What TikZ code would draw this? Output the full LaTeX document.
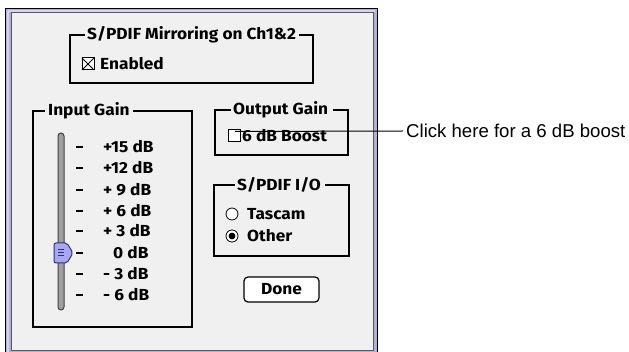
\documentclass[tikz,border=0pt]{standalone}
\usepackage{fontspec}
\setmainfont{Liberation Sans}
\newfontfamily\dlg[FakeStretch=1.08]{Fira Sans}
\definecolor{lav}{HTML}{B0B0D8}
\definecolor{lavlight}{HTML}{D4D4F0}
\definecolor{dlgbg}{HTML}{F0F0F0}
\definecolor{thumbfill}{HTML}{A8A8F0}
\definecolor{thumbdark}{HTML}{303080}
\definecolor{track}{HTML}{A0A0A0}
\tikzset{
  grp/.style={draw=black, line width=2pt},
  dtext/.style={font=\dlg\bfseries\fontsize{16}{16}\selectfont, inner sep=0pt, anchor=west},
  tick/.style={line width=1.6pt},
  chk/.style={draw=black, line width=1pt, fill=white},
}
\begin{document}
\begin{tikzpicture}[x=1pt,y=-1pt]
\useasboundingbox (0,0) rectangle (629,352);
\clip (0,0) rectangle (629,352);
% window frame
\fill[lav] (5,8) rectangle (378,360);
\draw[lavlight, line width=1.5pt] (8,11) -- (375,11) (8,11) -- (8,360);
\draw[black, line width=1.3pt] (5.6,8.6) rectangle (377.4,360);
\fill[dlgbg] (11,13) rectangle (373,351);
\draw[black!65, line width=1pt] (11,13) rectangle (373,351);

% S/PDIF mirroring group
\node[dtext] (mirrT) at (87,35) {S/PDIF Mirroring on Ch1\&2};
\draw[grp] ([xshift=-2pt]mirrT.west) -- (70,35) -- (70,83) -- (313,83) -- (313,35) -- ([xshift=3pt]mirrT.east);
\draw[chk] (82,58) rectangle (94,70);
\draw[line width=0.8pt] (82,58) -- (94,70) (82,70) -- (94,58);
\node[dtext] (enabled) at (100,64) {Enabled};

% Input Gain group
\node[dtext] (inT) at (48,111) {Input Gain};
\coordinate (inR) at (133,111);
\draw[grp] ([xshift=-3pt]inT.west) -- (33,111) -- (33,327) -- (192,327) -- (192,111) -- (inR);
\draw[draw=black!75, fill=track, line width=1pt, rounded corners=3pt] (58,133) rectangle (64,310);
\foreach \y/\t in {147/+15 dB,168/+12 dB,190/+ 9 dB,211/+ 6 dB,231/+ 3 dB,274/- 3 dB,295/- 6 dB}{
  \draw[tick] (76,\y) -- (83,\y);
  \node[dtext] at (103,\y) {\t};
}
\draw[tick] (76,253) -- (83,253);
\node[dtext] (zero) at (113,253) {0 dB};
\draw[fill=thumbfill, draw=thumbdark, line width=1pt, rounded corners=2pt] (54,243) -- (67,243) -- (73,253) -- (67,263) -- (54,263) -- cycle;
\draw[thumbdark, line width=0.8pt] (58,249.5) -- (64,249.5) (58,252.5) -- (64,252.5) (58,255.5) -- (64,255.5);

% Output Gain group
\node[dtext] (outT) at (233,110) {Output Gain};
\coordinate (outR) at (333,110);
\draw[grp] ([xshift=-2pt]outT.west) -- (215,110) -- (215,155) -- (348,155) -- (348,110) -- (outR);
\draw[chk] (228,130) rectangle (240,142);
\node[dtext] (boost) at (242,136) {6 dB Boost};
\coordinate (boostpt) at (235,131.5);

% S/PDIF I/O group
\node[dtext] (ioT) at (237,185) {S/PDIF I/O};
\coordinate (ioR) at (325,185);
\draw[grp] ([xshift=-2pt]ioT.west) -- (214,185) -- (214,256) -- (349,256) -- (349,185) -- (ioR);
\draw[fill=white, line width=0.8pt] (232,214) circle (6);
\node[dtext] (tascam) at (247,214) {Tascam};
\draw[fill=white, line width=0.8pt] (232,236) circle (6);
\fill (232,236) circle (3.4);
\node[dtext] (other) at (247,236) {Other};

% Done button
\node[draw=black, line width=1.2pt, fill=white, rounded corners=4pt, minimum width=75pt, minimum height=25pt, inner sep=0pt, font=\dlg\bfseries\fontsize{16}{16}\selectfont] (done) at (281.5,289.5) {Done};

% callout
\node[anchor=west, inner sep=0pt, font=\fontsize{18.6}{19}\selectfont] (callout) at (406,131) {Click here for a 6 dB boost};
\draw[line width=1pt] (boostpt) -- (callout.west -| 403,131.5);
\end{tikzpicture}
\end{document}
